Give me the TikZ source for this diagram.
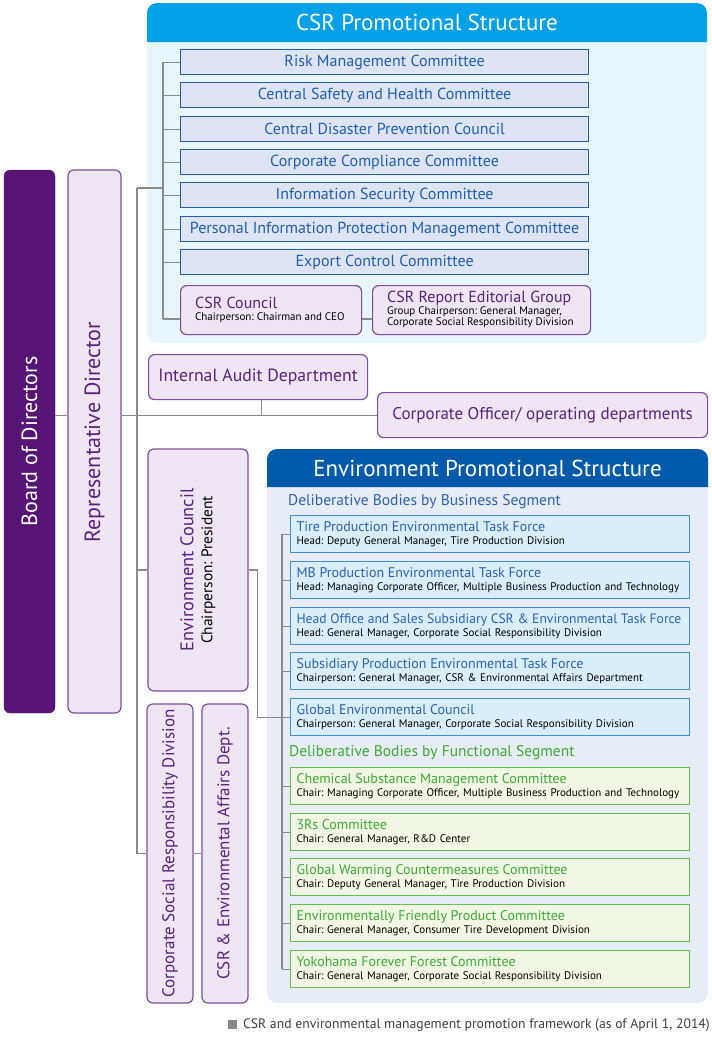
\documentclass[tikz,border=0pt]{standalone}
\usepackage{fontspec}
\setmainfont{PT Sans}
\usetikzlibrary{positioning}
\usetikzlibrary{calc}
\frenchspacing

\definecolor{boardpurple}{RGB}{86,20,117}
\definecolor{purpleline}{RGB}{125,79,158}
\definecolor{purplefill}{RGB}{238,231,243}
\definecolor{purpletext}{RGB}{91,31,128}
\definecolor{csrhead}{RGB}{0,160,230}
\definecolor{csrbody}{RGB}{233,245,253}
\definecolor{cline}{RGB}{30,95,175}
\definecolor{cfill}{RGB}{222,228,243}
\definecolor{envhead}{RGB}{0,89,169}
\definecolor{envbody}{RGB}{231,236,246}
\definecolor{bline}{RGB}{58,143,214}
\definecolor{bfill}{RGB}{218,237,251}
\definecolor{btext}{RGB}{42,99,176}
\definecolor{gline}{RGB}{102,190,78}
\definecolor{gfill}{RGB}{242,246,229}
\definecolor{gtext}{RGB}{59,170,52}
\definecolor{linegray}{RGB}{138,138,138}
\definecolor{captiongray}{RGB}{60,60,60}

\newcommand{\subfont}{\fontsize{11}{13}\selectfont}
\newcommand{\btitle}[2][14]{{\fontsize{#1}{13}\selectfont\color{btext}#2}}
\newcommand{\gtitle}[2][14]{{\fontsize{#1}{13}\selectfont\color{gtext}#2}}

\tikzset{
  conn/.style={draw=linegray, line width=1.2pt},
  purplebox/.style={draw=purpleline, fill=purplefill, line width=1.2pt, rounded corners=6pt, text=purpletext, inner sep=0pt},
  cbox/.style={draw=cline, fill=cfill, line width=1.2pt, text=cline, inner sep=0pt, anchor=north west,
    minimum width=408pt, minimum height=25pt, font=\fontsize{16}{18}\selectfont},
  bbox/.style={draw=bline, fill=bfill, line width=1.2pt, align=left, inner xsep=6pt, inner ysep=0pt, anchor=north west,
    minimum width=399pt, minimum height=37pt, text width=387pt, font=\subfont},
  gbox/.style={bbox, draw=gline, fill=gfill},
  headtitle/.style={text=white, font=\fontsize{23}{26}\selectfont, inner sep=0pt},
}

\begin{document}
\begin{tikzpicture}[x=1pt,y=1pt,yscale=-1,xscale=1]
\useasboundingbox (0,0) rectangle (712,1037);

% CSR Promotional Structure panel
\fill[csrbody, rounded corners=10pt] (147,3) rectangle (707,343);
\fill[csrhead, rounded corners=10pt] (147,42) -- (147,3) -- (707,3) -- (707,42);
\node[headtitle] (csrtitle) at (427,22.5) {CSR Promotional Structure};

% Environment Promotional Structure panel
\fill[envbody, rounded corners=10pt] (267,449) rectangle (708,1003);
\fill[envhead, rounded corners=10pt] (267,487) -- (267,449) -- (708,449) -- (708,487);
\node[headtitle] (envtitle) at (487.5,468) {Environment Promotional Structure};

% Board and representative director
\node[draw=boardpurple, fill=boardpurple, rounded corners=6pt, rotate=90, minimum width=543pt, minimum height=51pt,
  text=white, font=\fontsize{22}{24}\selectfont, inner sep=0pt] (board) at (29.5,441.5) {Board of Directors};
\node[purplebox, rotate=90, minimum width=543pt, minimum height=53pt] (repdir) at (94.5,441.5) {};
\node[rotate=90, text=purpletext, font=\fontsize{22}{24}\selectfont, inner sep=0pt] (repdirtext) at (94.5,432) {Representative Director};

% CSR committees
\node[cbox] (risk) at (180,49) {Risk Management Committee};
\node[cbox] (safety) at (180,82) {Central Safety and Health Committee};
\node[cbox] (disaster) at (180,116) {Central Disaster Prevention Council};
\node[cbox] (compliance) at (180,149) {Corporate Compliance Committee};
\node[cbox] (infosec) at (180,182) {Information Security Committee};
\node[cbox] (personal) at (180,216) {Personal Information Protection Management Committee};
\node[cbox] (export) at (180,249) {Export Control Committee};

% CSR council and editorial group
\node[purplebox, anchor=north west, minimum width=181pt, minimum height=49pt] (council) at (180,285) {};
\node[anchor=west, align=left, inner sep=0pt, text=black, font=\fontsize{11}{12}\selectfont] (counciltext) at (195,309.5)
  {{\fontsize{16}{12}\selectfont\color{purpletext}CSR Council}\\Chairperson: Chairman and CEO};
\node[purplebox, anchor=north west, minimum width=218pt, minimum height=49pt] (editorial) at (372,285) {};
\node[anchor=west, align=left, inner sep=0pt, text=black, font=\fontsize{11}{11}\selectfont] (editorialtext) at (387,309.5)
  {{\fontsize{16}{12}\selectfont\color{purpletext}CSR Report Editorial Group}\\Group Chairperson: General Manager,\\Corporate Social Responsibility Division};

% Audit and officers
\node[purplebox, anchor=north west, minimum width=219pt, minimum height=45pt, font=\fontsize{17.7}{20}\selectfont] (audit) at (148,354) {Internal Audit Department};
\node[purplebox, anchor=north west, minimum width=330pt, minimum height=45pt, font=\fontsize{17}{20}\selectfont] (corpoff) at (377,392) {Corporate Officer/ operating departments};

% Environment council and divisions
\node[purplebox, rotate=90, minimum width=242pt, minimum height=100pt, align=center, text=black, font=\fontsize{15.4}{19}\selectfont] (envcouncil) at (198,570)
  {{\fontsize{18.3}{19}\selectfont\color{purpletext}Environment Council}\\Chairperson: President};
\node[purplebox, rotate=90, minimum width=299pt, minimum height=46pt, font=\fontsize{17}{20}\selectfont] (csrdiv) at (170,853.5) {Corporate Social Responsibility Division};
\node[purplebox, rotate=90, minimum width=299pt, minimum height=46pt, font=\fontsize{17}{20}\selectfont] (envaffairs) at (225,853.5) {CSR \& Environmental Affairs Dept.};

% Deliberative bodies by business segment
\node[anchor=west, inner sep=0pt, text=btext, font=\fontsize{15.5}{18}\selectfont] (bizhead) at (288,502) {Deliberative Bodies by Business Segment};
\node[bbox] (tire) at (290,515) {\btitle{Tire Production Environmental Task Force}\\Head: Deputy General Manager, Tire Production Division};
\node[bbox] (mb) at (290,561) {\btitle{MB Production Environmental Task Force}\\Head: Managing Corporate Officer, Multiple Business Production and Technology};
\node[bbox] (headoffice) at (290,607) {\btitle[13.6]{Head Office and Sales Subsidiary CSR \& Environmental Task Force}\\Head: General Manager, Corporate Social Responsibility Division};
\node[bbox] (subsidiary) at (290,652) {\btitle{Subsidiary Production Environmental Task Force}\\Chairperson: General Manager, CSR \& Environmental Affairs Department};
\node[bbox] (globalenv) at (290,698) {\btitle{Global Environmental Council}\\Chairperson: General Manager, Corporate Social Responsibility Division};

% Deliberative bodies by functional segment
\node[anchor=west, inner sep=0pt, text=gtext, font=\fontsize{15.5}{18}\selectfont] (funchead) at (289,753) {Deliberative Bodies by Functional Segment};
\node[gbox] (chemical) at (290,767) {\gtitle{Chemical Substance Management Committee}\\Chair: Managing Corporate Officer, Multiple Business Production and Technology};
\node[gbox] (threers) at (290,813) {\gtitle{3Rs Committee}\\Chair: General Manager, R\&D Center};
\node[gbox] (warming) at (290,858) {\gtitle{Global Warming Countermeasures Committee}\\Chair: Deputy General Manager, Tire Production Division};
\node[gbox] (friendly) at (290,904) {\gtitle{Environmentally Friendly Product Committee}\\Chair: General Manager, Consumer Tire Development Division};
\node[gbox] (forest) at (290,950) {\gtitle{Yokohama Forever Forest Committee}\\Chair: General Manager, Corporate Social Responsibility Division};

% Caption
\node[anchor=east, inner sep=0pt, text=captiongray, font=\fontsize{13.7}{15}\selectfont] (caption) at (710,1025)
  {{\color{linegray}\rule[-0.5pt]{9pt}{9pt}}\hspace{6pt}CSR and environmental management promotion framework (as of April 1, 2014)};

% Connectors
\coordinate (trunktop) at (137,188);
\coordinate (trunkbot) at (137,853.5);
\coordinate (csrbus) at (163,188);
\coordinate (csrjoin) at (163,319);
\coordinate (envbus) at (282,533.5);
\draw[conn] (trunktop) -- (trunkbot);
\draw[conn] (trunktop) -- (csrbus);
\draw[conn] (risk.west -| csrbus) -- (csrjoin);
\draw[conn] (risk.west) -- (risk.west -| csrbus);
\draw[conn] (safety.west) -- (safety.west -| csrbus);
\draw[conn] (disaster.west) -- (disaster.west -| csrbus);
\draw[conn] (compliance.west) -- (compliance.west -| csrbus);
\draw[conn] (infosec.west) -- (infosec.west -| csrbus);
\draw[conn] (personal.west) -- (personal.west -| csrbus);
\draw[conn] (export.west) -- (export.west -| csrbus);
\draw[conn] (csrjoin) -- (csrjoin -| council.west);
\draw[conn] (csrjoin -| council.east) -- (csrjoin -| editorial.west);
\draw[conn] (board.south |- corpoff.west) -- (repdir.north |- corpoff.west);
\draw[conn] (repdir.south |- corpoff.west) -- (corpoff.west);
\draw[conn] ([xshift=3.5pt]audit.south) -- ([xshift=3.5pt]audit.south |- corpoff.west);
\draw[conn] (envcouncil.north -| trunktop) -- (envcouncil.north);
\draw[conn] (trunkbot) -- (csrdiv.north);
\draw[conn] (csrdiv.south) -- (envaffairs.north);
\draw[conn] (envcouncil.south) -- ++(9,0) |- (globalenv.west);
\draw[conn] (envbus) -- (envbus |- forest.west);
\draw[conn] (tire.west) -- (tire.west -| envbus);
\draw[conn] (mb.west) -- (mb.west -| envbus);
\draw[conn] (headoffice.west) -- (headoffice.west -| envbus);
\draw[conn] (subsidiary.west) -- (subsidiary.west -| envbus);
\draw[conn] (chemical.west) -- (chemical.west -| envbus);
\draw[conn] (threers.west) -- (threers.west -| envbus);
\draw[conn] (warming.west) -- (warming.west -| envbus);
\draw[conn] (friendly.west) -- (friendly.west -| envbus);
\draw[conn] (forest.west) -- (forest.west -| envbus);

\end{tikzpicture}
\end{document}
